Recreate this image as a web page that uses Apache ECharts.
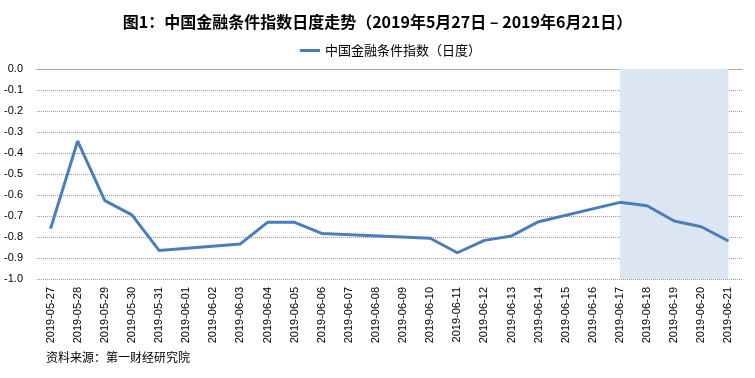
<!DOCTYPE html>
<html>
<head>
<meta charset="utf-8">
<script src="https://cdn.jsdelivr.net/npm/echarts@6/dist/echarts.min.js"></script>
<style>
  html, body { margin: 0; padding: 0; background: #fff; }
  #chart { width: 755px; height: 378px; }
</style>
</head>
<body>
<div id="chart"></div>
<script>
// 日期（含周末，周末无数据）
const dates = [
  '2019-05-27', '2019-05-28', '2019-05-29', '2019-05-30', '2019-05-31',
  '2019-06-01', '2019-06-02', '2019-06-03', '2019-06-04', '2019-06-05',
  '2019-06-06', '2019-06-07', '2019-06-08', '2019-06-09', '2019-06-10',
  '2019-06-11', '2019-06-12', '2019-06-13', '2019-06-14', '2019-06-15',
  '2019-06-16', '2019-06-17', '2019-06-18', '2019-06-19', '2019-06-20',
  '2019-06-21'
];

// 中国金融条件指数（日度）
const fciValues = [
  -0.76, -0.343, -0.627, -0.695, -0.864,
  null, null, -0.833, -0.73, -0.73,
  -0.783, null, null, null, -0.806,
  -0.875, -0.816, -0.795, -0.727, null,
  null, -0.635, -0.651, -0.724, -0.751,
  -0.819
];

const shadeRange = ['2019-06-17', '2019-06-21'];

const chart = echarts.init(document.getElementById('chart'));

const option = {
  animation: false,
  title: [
    {
      text: '图1：中国金融条件指数日度走势（2019年5月27日 – 2019年6月21日）',
      left: 'center',
      top: 9,
      textStyle: {
        fontFamily: 'Noto Sans CJK SC',
        fontSize: 16,
        fontWeight: 'bold',
        color: '#000'
      }
    },
    {
      text: '资料来源：第一财经研究院',
      left: 46,
      top: 351,
      padding: 0,
      textStyle: {
        fontFamily: 'Noto Sans CJK SC',
        fontSize: 12,
        fontWeight: 'normal',
        color: '#000'
      }
    }
  ],
  legend: {
    data: ['中国金融条件指数（日度）'],
    top: 44,
    left: 300,
    padding: 0,
    itemWidth: 20,
    itemHeight: 3,
    itemGap: 4,
    icon: 'rect',
    textStyle: {
      fontFamily: 'Noto Sans CJK SC',
      fontSize: 13,
      color: '#000'
    }
  },
  grid: {
    left: 37,
    right: 13,
    top: 69,
    bottom: 99
  },
  xAxis: {
    type: 'category',
    data: dates,
    boundaryGap: true,
    axisLine: {
      lineStyle: { color: '#999', type: 'dotted' }
    },
    axisTick: { show: false },
    axisLabel: {
      rotate: 90,
      interval: 0,
      margin: 8,
      fontFamily: 'Liberation Sans',
      fontSize: 11,
      color: '#000'
    }
  },
  yAxis: {
    type: 'value',
    min: -1,
    max: 0,
    interval: 0.1,
    axisLine: { show: false },
    axisTick: { show: false },
    axisLabel: {
      margin: 14,
      fontFamily: 'Liberation Sans',
      fontSize: 11,
      color: '#000',
      formatter: (v) => v.toFixed(1)
    },
    splitLine: {
      lineStyle: { color: '#999', type: 'dotted', width: 1 }
    }
  },
  series: [
    {
      name: '中国金融条件指数（日度）',
      type: 'line',
      data: fciValues,
      connectNulls: true,
      showSymbol: false,
      symbol: 'none',
      lineStyle: { width: 3, color: '#4A7EBB' },
      itemStyle: { color: '#4A7EBB' },
      markArea: {
        silent: true,
        itemStyle: { color: '#DCE6F2' },
        data: [[{ xAxis: shadeRange[0] }, { xAxis: shadeRange[1] }]]
      }
    }
  ]
};

chart.setOption(option);
</script>
</body>
</html>
